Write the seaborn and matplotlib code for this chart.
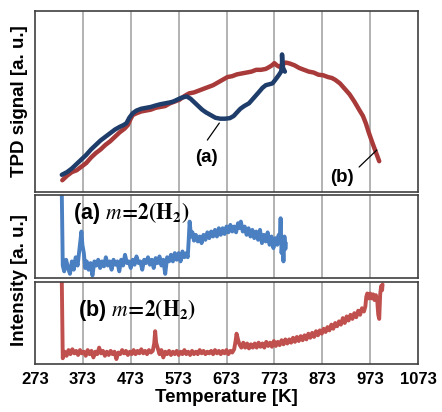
import numpy as np
import pandas as pd
import matplotlib
matplotlib.use("Agg")
import matplotlib.pyplot as plt
import seaborn as sns

# ---------------- data ----------------
tpd_b_T = [330, 340, 350, 360, 370, 380, 390, 400, 410, 420, 430, 440, 450, 460, 467, 472, 477,
           485, 495, 505, 515, 525, 535, 545, 555, 565, 575, 585, 595, 605, 615, 625, 635, 645,
           655, 665, 675, 685, 695, 705, 715, 725, 735, 745, 755, 762, 768, 773, 778, 783, 790,
           797, 805, 815, 825, 835, 845, 855, 865, 875, 885, 893, 900, 910, 920, 930, 940, 950,
           958, 964, 970, 978, 985, 992]
tpd_b_y = [0.065, 0.09, 0.11, 0.12, 0.14, 0.16, 0.19, 0.215, 0.235, 0.26, 0.28, 0.305, 0.33, 0.35,
           0.37, 0.40, 0.425, 0.435, 0.445, 0.45, 0.455, 0.465, 0.47, 0.475, 0.49, 0.50, 0.51,
           0.53, 0.545, 0.55, 0.56, 0.57, 0.58, 0.59, 0.605, 0.62, 0.635, 0.64, 0.65, 0.655, 0.66,
           0.665, 0.675, 0.675, 0.68, 0.69, 0.70, 0.712, 0.70, 0.692, 0.705, 0.715, 0.71, 0.70,
           0.685, 0.675, 0.665, 0.66, 0.648, 0.645, 0.635, 0.63, 0.62, 0.60, 0.57, 0.54, 0.50,
           0.455, 0.42, 0.38, 0.33, 0.27, 0.22, 0.17]

tpd_a_T = [329, 340, 350, 360, 370, 380, 390, 400, 410, 420, 430, 440, 450, 458, 464, 470, 477,
           485, 495, 505, 515, 525, 535, 545, 555, 562, 570, 578, 585, 590, 598, 606, 614, 622,
           630, 640, 650, 660, 670, 680, 688, 695, 702, 710, 720, 730, 740, 748, 755, 762, 769,
           775, 782, 787, 789, 789, 790, 792, 795]
tpd_a_y = [0.095, 0.11, 0.13, 0.155, 0.18, 0.205, 0.235, 0.26, 0.285, 0.305, 0.325, 0.345, 0.36,
           0.37, 0.38, 0.41, 0.435, 0.45, 0.46, 0.465, 0.47, 0.478, 0.485, 0.49, 0.495, 0.50,
           0.51, 0.52, 0.525, 0.528, 0.515, 0.495, 0.475, 0.455, 0.44, 0.425, 0.41, 0.405, 0.405,
           0.408, 0.42, 0.44, 0.46, 0.475, 0.49, 0.52, 0.55, 0.575, 0.59, 0.595, 0.60, 0.62,
           0.645, 0.665, 0.70, 0.76, 0.70, 0.68, 0.665]

h2_a_T = [329, 330, 331, 334, 338, 342, 346, 350, 354, 358, 362, 365, 368, 370, 372, 375, 378,
          381, 385, 389, 393, 397, 401, 405, 409, 413, 417, 421, 425, 429, 433, 437, 441, 445,
          449, 453, 457, 461, 465, 469, 473, 477, 481, 485, 489, 493, 497, 501, 505, 509, 513,
          517, 521, 525, 529, 533, 537, 541, 545, 549, 553, 557, 561, 565, 569, 573, 577, 581,
          585, 589, 592, 594, 596, 599, 602, 605, 609, 613, 617, 621, 625, 629, 633, 637, 641,
          645, 649, 653, 657, 661, 665, 669, 673, 677, 681, 685, 689, 693, 697, 700, 703, 707,
          711, 715, 719, 723, 727, 731, 735, 739, 743, 747, 751, 755, 759, 763, 767, 771, 775,
          779, 782, 784, 786, 788, 790, 792, 794, 796, 797]
h2_a_y = [1.0, 0.6, 0.15, 0.08, 0.22, 0.12, 0.05, 0.2, 0.1, 0.25, 0.15, 0.3, 0.45, 0.56, 0.4,
          0.3, 0.12, 0.2, 0.1, 0.18, 0.03, 0.2, 0.15, 0.22, 0.12, 0.2, 0.14, 0.25, 0.15, 0.2,
          0.1, 0.22, 0.16, 0.2, 0.08, 0.22, 0.15, 0.28, 0.18, 0.2, 0.12, 0.22, 0.16, 0.26, 0.18,
          0.2, 0.1, 0.22, 0.18, 0.25, 0.16, 0.22, 0.12, 0.24, 0.18, 0.26, 0.15, 0.22, 0.05, 0.25,
          0.2, 0.28, 0.2, 0.3, 0.22, 0.3, 0.2, 0.32, 0.25, 0.3, 0.25, 0.45, 0.68, 0.5, 0.55,
          0.45, 0.52, 0.44, 0.5, 0.42, 0.52, 0.46, 0.55, 0.48, 0.56, 0.5, 0.58, 0.5, 0.6, 0.52,
          0.6, 0.53, 0.62, 0.55, 0.64, 0.56, 0.62, 0.55, 0.66, 0.6, 0.68, 0.56, 0.62, 0.52, 0.6,
          0.5, 0.58, 0.48, 0.56, 0.46, 0.58, 0.42, 0.52, 0.44, 0.55, 0.4, 0.5, 0.36, 0.48, 0.4,
          0.52, 0.42, 0.72, 0.3, 0.45, 0.2, 0.5, 0.35, 0.42]

h2_b_T = [329, 330, 331, 335, 339, 343, 347, 351, 355, 359, 363, 367, 371, 375, 379, 383, 387,
          391, 395, 399, 403, 407, 411, 415, 419, 423, 427, 431, 435, 439, 443, 447, 451, 455,
          459, 463, 467, 471, 475, 479, 483, 487, 491, 495, 499, 503, 507, 511, 515, 519, 522,
          524, 526, 529, 533, 537, 541, 545, 549, 553, 557, 561, 565, 569, 573, 577, 581, 585,
          589, 593, 597, 601, 605, 609, 613, 617, 621, 625, 629, 633, 637, 641, 645, 649, 653,
          657, 661, 665, 669, 673, 677, 681, 685, 689, 692, 694, 697, 700, 704, 708, 712, 716,
          720, 724, 728, 732, 736, 740, 744, 748, 752, 756, 760, 764, 768, 772, 776, 780, 784,
          788, 792, 796, 800, 804, 808, 812, 816, 820, 824, 828, 832, 836, 840, 844, 848, 852,
          856, 860, 864, 868, 872, 876, 880, 884, 888, 892, 896, 900, 904, 908, 912, 916, 920,
          924, 928, 932, 936, 940, 944, 948, 952, 956, 960, 963, 965, 967, 970, 973, 976, 979,
          982, 985, 988, 990, 992, 994, 996, 998, 999]
h2_b_y = [1.0, 0.5, 0.07, 0.15, 0.1, 0.17, 0.12, 0.18, 0.13, 0.16, 0.11, 0.17, 0.13, 0.15, 0.1,
          0.17, 0.12, 0.16, 0.08, 0.15, 0.12, 0.2, 0.13, 0.16, 0.1, 0.15, 0.11, 0.16, 0.12, 0.15,
          0.06, 0.14, 0.12, 0.17, 0.13, 0.16, 0.11, 0.15, 0.12, 0.17, 0.12, 0.16, 0.13, 0.18,
          0.13, 0.16, 0.12, 0.17, 0.14, 0.16, 0.25, 0.4, 0.26, 0.2, 0.12, 0.17, 0.08, 0.15, 0.12,
          0.16, 0.11, 0.15, 0.12, 0.16, 0.11, 0.15, 0.12, 0.17, 0.12, 0.15, 0.11, 0.16, 0.12,
          0.15, 0.12, 0.17, 0.13, 0.16, 0.12, 0.15, 0.13, 0.16, 0.12, 0.17, 0.13, 0.16, 0.12,
          0.16, 0.13, 0.17, 0.12, 0.16, 0.14, 0.18, 0.28, 0.37, 0.3, 0.24, 0.2, 0.26, 0.2, 0.25,
          0.19, 0.24, 0.2, 0.25, 0.2, 0.26, 0.21, 0.25, 0.2, 0.27, 0.22, 0.26, 0.21, 0.28, 0.22,
          0.27, 0.23, 0.29, 0.24, 0.3, 0.25, 0.3, 0.26, 0.32, 0.27, 0.33, 0.28, 0.34, 0.29, 0.35,
          0.3, 0.37, 0.32, 0.38, 0.33, 0.4, 0.35, 0.41, 0.37, 0.43, 0.39, 0.45, 0.41, 0.48, 0.43,
          0.5, 0.46, 0.52, 0.48, 0.56, 0.5, 0.58, 0.53, 0.6, 0.55, 0.62, 0.57, 0.65, 0.6, 0.68,
          0.64, 0.7, 0.82, 0.86, 0.8, 0.86, 0.8, 0.85, 0.78, 0.84, 0.76, 0.6, 0.55, 0.85, 0.95,
          0.9, 0.97]

xticks = [273, 373, 473, 573, 673, 773, 873, 973, 1073]

# ---------------- style ----------------
sns.set_theme(style="white")
plt.rcParams['font.family'] = ['Liberation Sans', 'DejaVu Sans']
plt.rcParams['mathtext.fontset'] = 'stix'
plt.rcParams['text.color'] = 'black'
plt.rcParams['axes.labelcolor'] = 'black'
plt.rcParams['xtick.color'] = 'black'

W, H = 442, 412
fig = plt.figure(figsize=(W / 100, H / 100), dpi=100)

def ax_at(top, bottom, left=35, right=418):
    return fig.add_axes([left / W, (H - bottom) / H, (right - left) / W, (bottom - top) / H])

ax1 = ax_at(11, 192)
ax2 = ax_at(195, 278)
ax3 = ax_at(282, 364)

df_top_b = pd.DataFrame({"T": tpd_b_T, "y": tpd_b_y})
df_top_a = pd.DataFrame({"T": tpd_a_T, "y": tpd_a_y})
df_mid = pd.DataFrame({"T": h2_a_T, "y": h2_a_y})
df_bot = pd.DataFrame({"T": h2_b_T, "y": h2_b_y})

sns.lineplot(data=df_top_b, x="T", y="y", ax=ax1, color="#a83a3a", lw=3.2,
             sort=False, estimator=None)
sns.lineplot(data=df_top_a, x="T", y="y", ax=ax1, color="#1f3d6b", lw=3.2,
             sort=False, estimator=None)
sns.lineplot(data=df_mid, x="T", y="y", ax=ax2, color="#4a7fc1", lw=2.8,
             sort=False, estimator=None)
sns.lineplot(data=df_bot, x="T", y="y", ax=ax3, color="#c0504d", lw=2.8,
             sort=False, estimator=None)

for ax in (ax1, ax2, ax3):
    ax.set_xlim(273, 1073)
    ax.set_ylim(0, 1)
    ax.set_xticks(xticks)
    ax.set_yticks([])
    ax.set_xlabel("")
    ax.set_ylabel("")
    for x in xticks[1:-1]:
        ax.axvline(x, color="#a6a6a6", lw=1.2, zorder=0)
    for s in ax.spines.values():
        s.set_color("#404040")
        s.set_linewidth(1.2)
    ax.tick_params(axis="x", length=0)

ax1.set_xticklabels([])
ax2.set_xticklabels([])
ax3.set_xticklabels([str(t) for t in xticks], fontsize=12, fontweight="bold")
ax3.tick_params(axis="x", pad=6)
ax3.set_xlabel("Temperature [K]", fontsize=13.5, fontweight="bold", labelpad=1)

# annotations on top panel
ax1.text(631, 0.19, "(a)", fontsize=13.5, fontweight="bold", ha="center", va="center")
ax1.plot([633, 658], [0.287, 0.381], color="black", lw=0.9)
ax1.text(915, 0.08, "(b)", fontsize=13.5, fontweight="bold", ha="center", va="center")
ax1.plot([950, 987], [0.138, 0.232], color="black", lw=0.9)

label_math = r"$\mathit{m}\!\mathbf{=}\!\mathbf{2(H_2)}$"
ax2.text(0.10, 0.78, "(a) " + label_math, transform=ax2.transAxes,
         fontsize=15.5, fontweight="bold", ha="left", va="center")
ax3.text(0.113, 0.66, "(b) " + label_math, transform=ax3.transAxes,
         fontsize=15.5, fontweight="bold", ha="left", va="center")

fig.text(20 / W, (H - 101) / H, "TPD signal [a. u.]", rotation=90, fontsize=13.5,
         fontweight="bold", ha="center", va="center")
fig.text(20 / W, (H - 280) / H, "Intensity [a. u.]", rotation=90, fontsize=13.5,
         fontweight="bold", ha="center", va="center")

fig.savefig("out.png", dpi=100, facecolor="white")
